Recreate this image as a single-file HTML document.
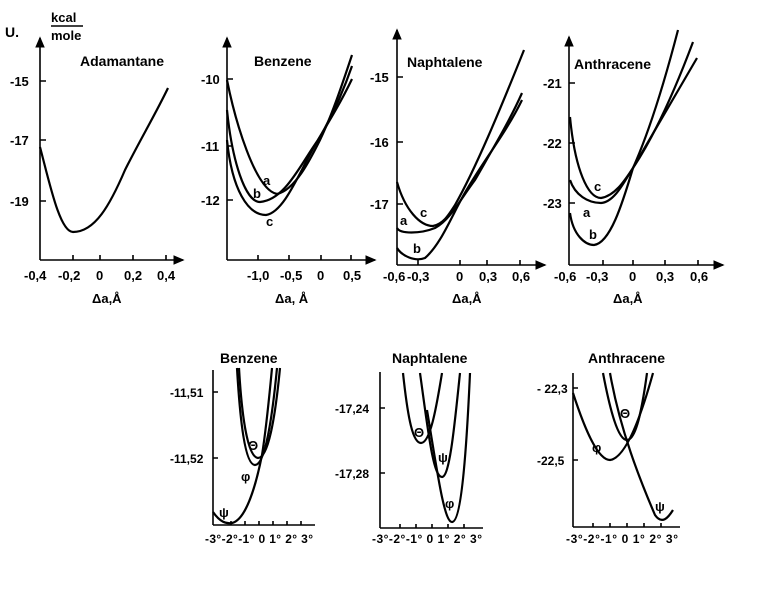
<!DOCTYPE html>
<html><head><meta charset="utf-8"><style>
html,body{margin:0;padding:0;background:#fff}
svg{display:block}
text{font-family:"Liberation Sans",sans-serif;font-size:13px;fill:#000;font-weight:bold}
.t{font-size:14px}
path.c{fill:none;stroke:#000;stroke-width:2.2}
path.a{fill:none;stroke:#000;stroke-width:1.6}
</style></head><body>
<svg width="762" height="598" viewBox="0 0 762 598">
<defs><marker id="ar" markerWidth="8" markerHeight="8" refX="6" refY="3" orient="auto"><path d="M0,0 L7,3 L0,6 Z" fill="#000"/></marker></defs>

<!-- Panel 1 Adamantane -->
<path class="a" d="M40,260 L40,38" marker-end="url(#ar)"/>
<path class="a" d="M40,260 L183,260" marker-end="url(#ar)"/>
<path class="a" d="M40,81h6M40,140h6M40,201h6M73,260v-5M100,260v-5M133,260v-5M166,260v-5"/>
<text x="5" y="37" class="t">U.</text>
<text x="51" y="22">kcal</text><path class="a" d="M51,26h32"/>
<text x="51" y="40">mole</text>
<text x="80" y="66" class="t">Adamantane</text>
<text x="10" y="86">-15</text><text x="10" y="145">-17</text><text x="10" y="206">-19</text>
<text x="24" y="280">-0,4</text><text x="58" y="280">-0,2</text><text x="96" y="280">0</text><text x="124" y="280">0,2</text><text x="157" y="280">0,4</text>
<text x="92" y="303">Δa,Å</text>
<path class="c" d="M40,147 C50,185 60,232 73,232 C95,232 110,205 125,170 C140,140 155,115 168,88"/>

<!-- Panel 2 Benzene -->
<path class="a" d="M227,260 L227,38" marker-end="url(#ar)"/>
<path class="a" d="M227,260 L375,260" marker-end="url(#ar)"/>
<path class="a" d="M227,79h6M227,146h6M227,200h6M258,260v-5M289,260v-5M321,260v-5M351,260v-5"/>
<text x="254" y="66" class="t">Benzene</text>
<text x="201" y="84">-10</text><text x="201" y="151">-11</text><text x="201" y="205">-12</text>
<text x="247" y="280">-1,0</text><text x="280" y="280">-0,5</text><text x="317" y="280">0</text><text x="343" y="280">0,5</text>
<text x="275" y="303">Δa, Å</text>
<path class="c" d="M227,80 C235,120 255,190 277,194 C295,190 310,160 320,140 C332,115 342,85 352,55"/>
<path class="c" d="M227,110 C232,160 245,202 260,202 C285,200 300,165 318,140 C330,120 342,95 352,66"/>
<path class="c" d="M227,140 C232,190 248,215 266,215 C285,212 300,170 318,140 C330,120 342,100 352,79"/>
<text x="263" y="185">a</text><text x="253" y="198">b</text><text x="266" y="226">c</text>

<!-- Panel 3 Naphtalene -->
<path class="a" d="M397,265 L397,30" marker-end="url(#ar)"/>
<path class="a" d="M397,265 L545,265" marker-end="url(#ar)"/>
<path class="a" d="M397,77h6M397,142h6M397,204h6M418,265v-5M460,265v-5M487,265v-5M520,265v-5"/>
<text x="407" y="67" class="t">Naphtalene</text>
<text x="370" y="82">-15</text><text x="370" y="147">-16</text><text x="370" y="209">-17</text>
<text x="383" y="281">-0,6</text><text x="407" y="281">-0,3</text><text x="456" y="281">0</text><text x="479" y="281">0,3</text><text x="512" y="281">0,6</text>
<text x="452" y="303">Δa,Å</text>
<path class="c" d="M397,182 C405,210 420,226 433,226 C443,224 448,216 455,205 C475,170 500,110 524,50"/>
<path class="c" d="M397,228 C400,234 420,234 435,228 C450,220 460,200 475,180 C495,145 510,120 522,93"/>
<path class="c" d="M397,248 C402,256 415,262 425,258 C440,245 450,220 462,198 C480,165 505,135 522,100"/>
<text x="400" y="225">a</text><text x="420" y="217">c</text><text x="413" y="253">b</text>

<!-- Panel 4 Anthracene -->
<path class="a" d="M569,265 L569,37" marker-end="url(#ar)"/>
<path class="a" d="M569,265 L723,265" marker-end="url(#ar)"/>
<path class="a" d="M569,83h6M569,143h6M569,203h6M603,265v-5M633,265v-5M665,265v-5M698,265v-5"/>
<text x="574" y="69" class="t">Anthracene</text>
<text x="543" y="88">-21</text><text x="543" y="148">-22</text><text x="543" y="208">-23</text>
<text x="554" y="281">-0,6</text><text x="586" y="281">-0,3</text><text x="629" y="281">0</text><text x="656" y="281">0,3</text><text x="690" y="281">0,6</text>
<text x="613" y="303">Δa,Å</text>
<path class="c" d="M570,117 C575,170 588,198 601,198 C615,196 625,180 633,168 C650,130 665,80 678,30"/>
<path class="c" d="M570,180 C575,195 588,203 601,203 C615,202 625,180 633,168 C655,135 675,90 693,42"/>
<path class="c" d="M570,213 C573,235 585,245 594,245 C610,243 622,205 633,168 C655,130 678,90 697,58"/>
<text x="594" y="191">c</text><text x="583" y="217">a</text><text x="589" y="239">b</text>

<!-- Bottom Benzene -->
<path class="a" d="M213,525 L213,370"/>
<path class="a" d="M213,525 L315,525"/>
<path class="a" d="M213,392h5M213,458h5M231,525v-4M245,525v-4M259,525v-4M273,525v-4M287,525v-4M301,525v-4"/>
<text x="220" y="363" class="t">Benzene</text>
<text x="170" y="397" style="font-size:12px">-11,51</text><text x="170" y="463" style="font-size:12px">-11,52</text>
<text x="205" y="543" style="font-size:12px" textLength="108" lengthAdjust="spacing">-3°-2°-1° 0 1° 2° 3°</text>
<path class="c" d="M213,512 C220,522 226,524 232,523 C245,520 255,490 262,455 C266,430 269,400 272,368"/>
<path class="c" d="M237,368 C240,420 245,465 255,465 C265,465 272,420 277,368"/>
<path class="c" d="M239,368 C242,420 248,457 258,458 C268,458 275,420 280,368"/>
<text x="248" y="450">Θ</text><text x="241" y="481">φ</text><text x="219" y="517">ψ</text>

<!-- Bottom Naphtalene -->
<path class="a" d="M380,528 L380,372"/>
<path class="a" d="M380,528 L483,528"/>
<path class="a" d="M380,408h5M380,473h5M400,528v-4M416,528v-4M432,528v-4M448,528v-4M464,528v-4"/>
<text x="392" y="363" class="t">Naphtalene</text>
<text x="335" y="413" style="font-size:12px">-17,24</text><text x="335" y="478" style="font-size:12px">-17,28</text>
<text x="372" y="543" style="font-size:12px" textLength="110" lengthAdjust="spacing">-3°-2°-1° 0 1° 2° 3°</text>
<path class="c" d="M403,373 C408,420 413,443 421,443 C430,443 436,410 442,373"/>
<path class="c" d="M420,373 C428,430 433,477 442,477 C450,477 455,420 460,373"/>
<path class="c" d="M427,410 C437,470 444,522 452,522 C462,522 467,440 470,373"/>
<text x="414" y="437">Θ</text><text x="438" y="462">ψ</text><text x="445" y="508">φ</text>

<!-- Bottom Anthracene -->
<path class="a" d="M573,527 L573,373"/>
<path class="a" d="M573,527 L680,527"/>
<path class="a" d="M573,388h5M573,460h5M593,527v-4M610,527v-4M627,527v-4M644,527v-4M661,527v-4"/>
<text x="588" y="363" class="t">Anthracene</text>
<text x="537" y="393" style="font-size:12px">- 22,3</text><text x="537" y="465" style="font-size:12px">-22,5</text>
<text x="566" y="543" style="font-size:12px" textLength="112" lengthAdjust="spacing">-3°-2°-1° 0 1° 2° 3°</text>
<path class="c" d="M573,393 C585,430 598,460 610,460 C625,458 640,420 653,373"/>
<path class="c" d="M603,373 C610,410 618,440 627,440 C636,440 642,410 647,373"/>
<path class="c" d="M610,373 C620,430 640,480 655,515 C662,525 668,518 673,510"/>
<text x="620" y="418">Θ</text><text x="592" y="452">φ</text><text x="655" y="511">ψ</text>
</svg>
</body></html>
